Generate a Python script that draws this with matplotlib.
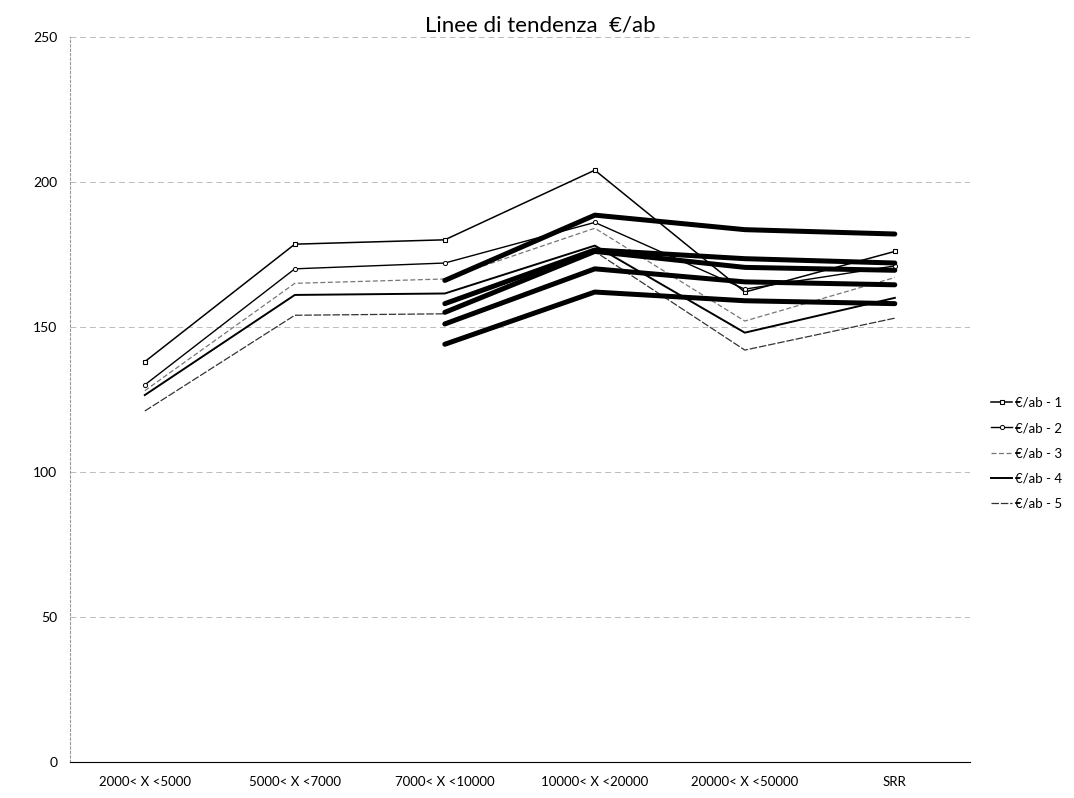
import matplotlib
matplotlib.use("Agg")
import matplotlib.pyplot as plt

plt.rcParams['font.family'] = ['Lato', 'DejaVu Sans']

categories = ["2000< X <5000", "5000< X <7000", "7000< X <10000",
              "10000< X <20000", "20000< X <50000", "SRR"]

# thin lines: €/ab per series, one value per category
serie_1 = [138, 178.5, 180, 204, 162, 176]
serie_2 = [130, 170, 172, 186, 163, 171]
serie_3 = [128, 165, 166.5, 184, 152, 167]
serie_4 = [126.5, 161, 161.5, 178, 148, 160]
serie_5 = [121, 154, 154.5, 176, 142, 153]

# thick trend lines (moving average), from the 3rd category on
trend_1 = [166, 188.5, 183.5, 182]
trend_2 = [158, 176.5, 173.5, 172]
trend_3 = [155, 176, 170.5, 169.5]
trend_4 = [151, 170, 165.5, 164.5]
trend_5 = [144, 162, 159, 158]

labels = ["€/ab - 1", "€/ab - 2", "€/ab - 3", "€/ab - 4", "€/ab - 5"]

fig = plt.figure(figsize=(10.74, 7.98), dpi=100)
ax = fig.add_axes([0.065, 0.045, 0.838, 0.909])

x = list(range(len(categories)))
xt = x[2:]

styles = [
    dict(color="black", lw=1.1, marker="s", ms=3.5, mfc="white", mew=0.8),
    dict(color="black", lw=1.0, marker="o", ms=3, mfc="white", mew=0.7),
    dict(color="#777777", lw=0.9, ls=(0, (4, 2))),
    dict(color="black", lw=1.4),
    dict(color="#333333", lw=0.9, ls=(0, (6, 1.5))),
]
handles = []
for s, st in zip([serie_1, serie_2, serie_3, serie_4, serie_5], styles):
    h, = ax.plot(x, s, zorder=3, **st)
    handles.append(h)

for t in [trend_1, trend_2, trend_3, trend_4, trend_5]:
    ax.plot(xt, t, color="black", lw=3.6, solid_capstyle="round", zorder=4)

ax.set_xlim(-0.5, 5.5)
ax.set_ylim(0, 250)
ax.set_yticks([0, 50, 100, 150, 200, 250])
ax.set_xticks(x)
ax.set_xticklabels(categories, fontsize=9.5)
ax.tick_params(axis="y", labelsize=10, length=0, pad=9)
ax.tick_params(axis="x", length=0, pad=10)
ax.yaxis.grid(True, color="#bbbbbb", ls=(0, (6, 4)), lw=0.7)
ax.set_axisbelow(True)
for side in ["top", "right"]:
    ax.spines[side].set_visible(False)
ax.spines["left"].set_color("#999999")
ax.spines["left"].set_linestyle((0, (2, 2)))
ax.spines["bottom"].set_color("black")

fig.text(0.503, 1 - 25 / 798, "Linee di tendenza  €/ab", ha="center", va="center", fontsize=16)

fig.legend(handles, labels, loc="upper left", bbox_to_anchor=(0.912, 1 - 385 / 798),
           frameon=False, fontsize=9.5, handlelength=1.6, labelspacing=1.0,
           handletextpad=0.2)

fig.savefig("out.png", dpi=100, facecolor="white")
